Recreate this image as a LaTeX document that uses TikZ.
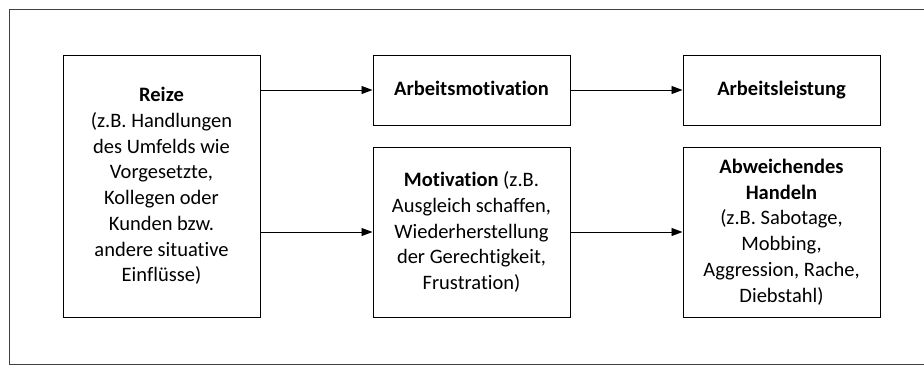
\documentclass[tikz,border=0pt]{standalone}
\usepackage{fontspec}
\setmainfont{Carlito}[Ligatures=NoCommon]
\usetikzlibrary{arrows.meta, positioning}

\begin{document}
\begin{tikzpicture}[
        x=1pt, y=-1pt,
        every node/.style={font=\fontsize{20.5pt}{25.7pt}\selectfont},
        box/.style={draw, line width=1pt, minimum width=197pt, align=center, inner sep=4pt},
        flow/.style={-{Triangle[length=11pt,width=8pt]}, line width=0.9pt}
    ]
        \useasboundingbox (0,0) rectangle (924,365);
        % Rahmen (rechts offen)
        \draw[line width=1pt, black!75] (925,9) -- (9,9) -- (9,364) -- (925,364);

        % Kästen
        \node [box, minimum height=262pt] (reize) at (161.5,186)
            {\textbf{Reize}\\(z.B. Handlungen\\des Umfelds wie\\Vorgesetzte,\\Kollegen oder\\Kunden bzw.\\andere situative\\Einflüsse)};
        \node [box, minimum height=70pt] (arbmot) at (471.5,90) {\strut\textbf{Arbeitsmotivation}};
        \node [box, minimum height=70pt] (arbleist) at (781.5,90) {\strut\textbf{Arbeitsleistung}};
        \node [box, minimum height=170pt] (motiv) at (471.5,232)
            {\textbf{Motivation} (z.B.\\Ausgleich schaffen,\\Wiederherstellung\\der Gerechtigkeit,\\Frustration)};
        \node [box, minimum height=170pt] (abweich) at (781.5,232)
            {\textbf{Abweichendes}\\\textbf{Handeln}\\(z.B. Sabotage,\\Mobbing,\\Aggression, Rache,\\Diebstahl)};

        % Pfeile
        \draw[flow] (reize.east |- arbmot.west) -- (arbmot.west);
        \draw[flow] (reize.east |- motiv.west) -- (motiv.west);
        \draw[flow] (arbmot) -- (arbleist);
        \draw[flow] (motiv) -- (abweich);
    \end{tikzpicture}
\end{document}
